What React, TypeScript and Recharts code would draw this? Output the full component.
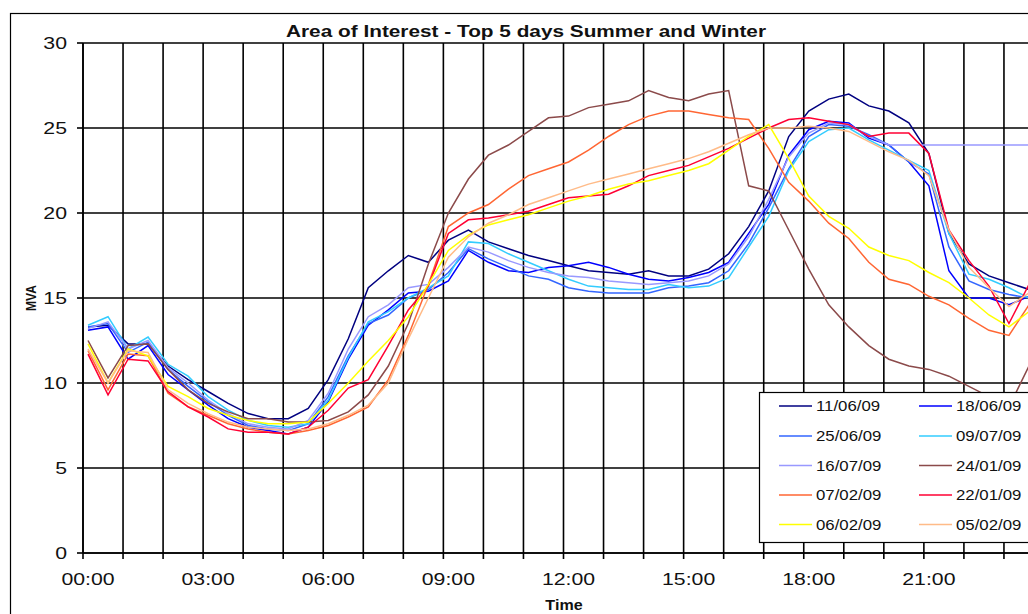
import React from "react";
import { LineChart, Line, XAxis, YAxis, CartesianGrid } from "recharts";

// Half-hourly reading slots, 00:00 .. 23:30
const slots = Array.from(
  { length: 48 },
  (_, i) => `${String(Math.floor(i / 2)).padStart(2, "0")}:${i % 2 ? "30" : "00"}`
);

const seriesNames = [
  "11/06/09",
  "18/06/09",
  "25/06/09",
  "09/07/09",
  "16/07/09",
  "24/01/09",
  "07/02/09",
  "22/01/09",
  "06/02/09",
  "05/02/09",
];

// MVA per half-hour slot
const d110609 = [13.3, 13.4, 12.3, 12.3, 11.0, 10.2, 9.5, 8.8, 8.2, 7.9, 7.9, 8.5, 10.2, 12.6, 15.6, 16.6, 17.5, 17.1, 18.4, 19.0, 18.3, 17.9, 17.5, 17.2, 16.9, 16.6, 16.5, 16.4, 16.6, 16.3, 16.3, 16.7, 17.6, 19.2, 21.3, 24.5, 26.0, 26.7, 27.0, 26.3, 26.0, 25.3, 23.5, 18.8, 17.0, 16.3, 15.9, 15.5];
const d180609 = [13.1, 13.3, 11.4, 12.2, 10.5, 9.6, 8.7, 7.9, 7.4, 7.2, 7.0, 7.4, 8.9, 11.4, 13.4, 14.3, 15.3, 15.4, 16.0, 17.8, 17.1, 16.6, 16.5, 16.8, 16.9, 17.1, 16.8, 16.4, 16.1, 16.0, 16.2, 16.5, 17.1, 18.8, 20.5, 23.4, 24.9, 25.4, 25.3, 24.4, 24.0, 23.0, 21.6, 16.6, 15.0, 15.0, 14.6, 15.1];
const d250609 = [13.3, 13.5, 11.8, 12.4, 10.8, 9.8, 8.9, 8.1, 7.5, 7.3, 7.2, 7.6, 9.2, 11.6, 13.5, 14.0, 15.0, 15.5, 16.5, 17.9, 17.3, 16.8, 16.3, 16.1, 15.6, 15.4, 15.3, 15.3, 15.3, 15.6, 15.7, 15.9, 16.6, 18.2, 20.3, 22.6, 24.5, 25.2, 25.1, 24.6, 24.0, 23.0, 22.3, 18.0, 16.0, 15.5, 15.2, 15.0];
const d090709 = [13.4, 13.9, 12.0, 12.7, 11.1, 10.4, 9.2, 8.4, 7.8, 7.5, 7.4, 7.6, 9.0, 11.5, 13.6, 14.2, 15.0, 15.6, 16.3, 18.3, 18.2, 17.6, 17.1, 16.6, 16.1, 15.7, 15.6, 15.5, 15.5, 15.8, 15.6, 15.7, 16.2, 18.0, 19.8, 22.5, 24.2, 24.9, 25.0, 24.3, 23.7, 23.1, 22.5, 18.8, 16.4, 16.1, 15.6, 15.0];
const d160709 = [13.2, 13.6, 12.0, 12.5, 10.9, 10.0, 9.0, 8.2, 7.6, 7.4, 7.3, 7.8, 9.4, 12.0, 13.9, 14.6, 15.6, 15.8, 16.8, 18.0, 17.7, 17.2, 16.8, 16.5, 16.3, 16.2, 16.0, 15.9, 15.8, 15.9, 16.0, 16.3, 17.0, 18.6, 20.8, 23.3, 24.7, 25.3, 25.2, 24.5, 24.0, 24.0, 24.0, 24.0, 24.0, 24.0, 24.0, 24.0];
const d240109 = [12.5, 10.3, 12.2, 12.3, 10.8, 9.6, 8.8, 8.3, 7.9, 7.9, 7.7, 7.7, 7.8, 8.3, 9.3, 11.0, 13.5, 17.0, 20.0, 22.0, 23.4, 24.0, 24.8, 25.6, 25.7, 26.2, 26.4, 26.6, 27.2, 26.8, 26.6, 27.0, 27.2, 21.6, 21.3, 19.0, 16.7, 14.6, 13.3, 12.2, 11.4, 11.0, 10.8, 10.4, 9.8, 9.2, 8.6, 11.0];
const d070209 = [11.9, 9.6, 11.7, 11.6, 9.4, 8.6, 8.1, 7.6, 7.3, 7.1, 7.0, 7.2, 7.5, 8.0, 8.6, 10.2, 12.8, 15.8, 19.2, 20.0, 20.5, 21.4, 22.2, 22.6, 23.0, 23.7, 24.5, 25.2, 25.7, 26.0, 26.0, 25.8, 25.6, 25.5, 23.8, 21.8, 20.7, 19.4, 18.5, 17.1, 16.1, 15.8, 15.1, 14.6, 13.8, 13.1, 12.8, 14.6];
const d220109 = [11.7, 9.3, 11.4, 11.3, 9.5, 8.6, 8.0, 7.3, 7.1, 7.1, 7.0, 7.4, 8.4, 9.7, 10.2, 12.2, 14.3, 15.7, 18.8, 19.6, 19.7, 19.9, 20.1, 20.5, 20.9, 21.0, 21.1, 21.6, 22.2, 22.5, 22.8, 23.3, 23.8, 24.4, 25.0, 25.5, 25.6, 25.4, 25.2, 24.5, 24.7, 24.7, 23.5, 19.0, 17.2, 15.7, 13.5, 15.8];
const d060209 = [12.3, 10.0, 12.0, 11.6, 9.8, 9.2, 8.5, 8.1, 7.8, 7.6, 7.6, 7.7, 8.8, 10.0, 11.3, 12.5, 13.9, 15.8, 17.8, 18.7, 19.3, 19.6, 19.9, 20.3, 20.7, 21.0, 21.4, 21.7, 21.9, 22.2, 22.5, 22.9, 23.7, 24.5, 25.2, 23.2, 21.0, 19.8, 19.1, 18.0, 17.5, 17.2, 16.5, 15.9, 15.0, 14.0, 13.3, 14.2];
const d050209 = [12.0, 10.0, 11.9, 11.8, 9.6, 8.8, 8.2, 7.7, 7.4, 7.3, 7.2, 7.3, 7.6, 8.1, 8.7, 10.0, 12.6, 15.0, 17.4, 18.6, 19.4, 19.9, 20.5, 20.9, 21.3, 21.7, 22.0, 22.3, 22.6, 22.9, 23.2, 23.6, 24.1, 24.6, 25.0, 25.0, 25.1, 25.0, 24.8, 24.2, 23.6, 23.1, 22.2, 19.0, 16.8, 15.6, 14.5, 15.3];

const seriesValues = [d110609, d180609, d250609, d090709, d160709, d240109, d070209, d220109, d060209, d050209];

const seriesColors = [
  "#000080",
  "#0000ff",
  "#3366ff",
  "#33ccff",
  "#9999ff",
  "#8b4a4a",
  "#ff6633",
  "#ff0033",
  "#ffff00",
  "#ffbb88",
];

const yTicks = [0, 5, 10, 15, 20, 25, 30];
const hourTicks = Array.from({ length: 25 }, (_, h) => h);

// one row per slot; each reading is plotted in the middle of its 15-minute slot
const rows = slots.map((slot, i) => {
  const [hh, mm] = slot.split(":").map(Number);
  const row: Record<string, number | string> = { slot, x: hh + mm / 60 + 0.125 };
  seriesValues.forEach((vals, j) => {
    row[`s${j}`] = vals[i];
  });
  return row;
});

const FONT = "'Liberation Sans', Arial, Helvetica, sans-serif";
const SX = 1.25; // lettering is drawn a little wide

function WideText({ x, y, size, anchor = "start", bold = false, sx = SX, children }: any) {
  return (
    <text
      transform={`translate(${x} ${y}) scale(${sx} 1)`}
      textAnchor={anchor}
      fontSize={size}
      fontWeight={bold ? 700 : 400}
      fontFamily={FONT}
      fill="#111"
    >
      {children}
    </text>
  );
}

function HourTick({ x, y, payload }: any) {
  const h = payload.value;
  if (h % 3 !== 0 || h >= 24) return null;
  return (
    <WideText x={x + 5} y={y + 26} size={17} anchor="middle">
      {`${String(h).padStart(2, "0")}:00`}
    </WideText>
  );
}

function MvaTick({ x, y, payload }: any) {
  return (
    <WideText x={x} y={y + 6} size={17} anchor="end">
      {payload.value}
    </WideText>
  );
}

function Legend() {
  const colX = [779, 919];
  const rowY = [406, 436, 465.5, 495, 524.5];
  return (
    <g>
      <rect x={759.5} y={392.5} width={300} height={150} fill="#fff" stroke="#000" strokeWidth={1.2} />
      {seriesNames.map((name, i) => {
        const cx = colX[i % 2];
        const cy = rowY[Math.floor(i / 2)];
        return (
          <g key={name}>
            <line x1={cx} x2={cx + 33} y1={cy} y2={cy} stroke={seriesColors[i]} strokeWidth={1.5} />
            <WideText x={cx + 37} y={cy + 5} size={14} sx={1.2}>
              {name}
            </WideText>
          </g>
        );
      })}
    </g>
  );
}

export default function App() {
  return (
    <div style={{ position: "absolute", left: 0, top: 0, width: 1028, height: 614, overflow: "hidden", background: "#fff" }}>
      <div style={{ position: "absolute", left: 0, top: 0 }}>
        <LineChart width={1060} height={640} data={rows} margin={{ top: 43, right: 16, bottom: 47, left: 0 }}>
          <CartesianGrid stroke="#000" strokeWidth={1.6} />
          <XAxis
            type="number"
            dataKey="x"
            domain={[0, 24]}
            ticks={hourTicks}
            interval={0}
            height={40}
            tickSize={6}
            tickMargin={0}
            axisLine={{ stroke: "#000", strokeWidth: 1.6 }}
            tickLine={{ stroke: "#000", strokeWidth: 1.6 }}
            tick={<HourTick />}
          />
          <YAxis
            type="number"
            domain={[0, 30]}
            ticks={yTicks}
            interval={0}
            width={83}
            tickSize={6}
            tickMargin={10}
            axisLine={{ stroke: "#000", strokeWidth: 1.6 }}
            tickLine={{ stroke: "#000", strokeWidth: 1.6 }}
            tick={<MvaTick />}
          />
          {seriesNames.map((name, i) => (
            <Line
              key={name}
              name={name}
              dataKey={`s${i}`}
              type="linear"
              stroke={seriesColors[i]}
              strokeWidth={1.5}
              dot={false}
              isAnimationActive={false}
            />
          ))}
        </LineChart>
      </div>
      <svg style={{ position: "absolute", left: 0, top: 0 }} width={1028} height={614}>
        <rect x={10.5} y={13.5} width={1100} height={700} fill="none" stroke="#000" strokeWidth={1.2} />
        <WideText x={526} y={37} size={16} bold sx={1.3} anchor="middle">
          Area of Interest - Top 5 days Summer and Winter
        </WideText>
        <text
          transform="translate(36 298) rotate(-90) scale(1 1.25)"
          textAnchor="middle"
          fontSize={12}
          fontWeight={700}
          fontFamily={FONT}
          fill="#111"
        >
          MVA
        </text>
        <WideText x={564} y={610} size={14} bold sx={1.15} anchor="middle">
          Time
        </WideText>
        <Legend />
      </svg>
    </div>
  );
}
